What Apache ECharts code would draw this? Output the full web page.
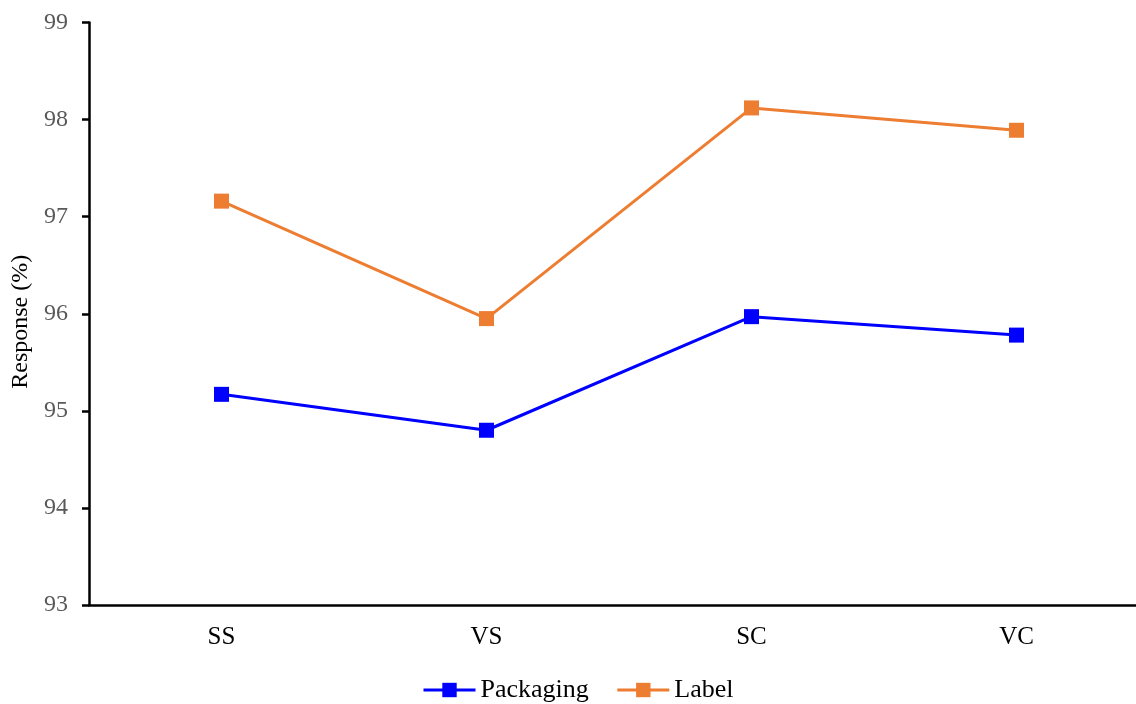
<!DOCTYPE html>
<html><head><meta charset="utf-8">
<script src="https://cdn.jsdelivr.net/npm/echarts@6/dist/echarts.min.js"></script>
<style>html,body{margin:0;padding:0;background:#fff}#c{width:1136px;height:704px}</style>
</head><body><div id="c"></div>
<script>
const categories = ['SS', 'VS', 'SC', 'VC'];
const packaging = [95.17, 94.80, 95.97, 95.78];
const label = [97.16, 95.95, 98.12, 97.89];
const yTicks = [93, 94, 95, 96, 97, 98, 99];

const font = '"Liberation Serif", "Times New Roman", serif';
const chart = echarts.init(document.getElementById('c'), null, {renderer: 'canvas'});
chart.setOption({
  animation: false,
  textStyle: {fontFamily: font},
  grid: {left: 89, width: 1060, top: 22.5, bottom: 99, containLabel: false, outerBoundsMode: 'none'},
  legend: {
    top: 672, left: 417,
    itemWidth: 52, itemHeight: 18, itemGap: 27,
    lineStyle: {width: 3},
    textStyle: {fontFamily: font, fontSize: 26, color: '#000'},
    data: ['Packaging', 'Label']
  },
  xAxis: {
    type: 'category', data: categories, boundaryGap: true,
    axisLine: {lineStyle: {color: '#000', width: 2.5}},
    axisTick: {show: false},
    axisLabel: {fontFamily: font, fontSize: 25, color: '#000', margin: 20}
  },
  yAxis: {
    type: 'value', min: yTicks[0], max: yTicks[yTicks.length - 1], interval: 1,
    name: 'Response (%)', nameLocation: 'middle', nameGap: 53, nameRotate: 90,
    nameTextStyle: {fontFamily: font, fontSize: 24, color: '#000', padding: [0, 16, 0, 0]},
    axisLine: {show: true, lineStyle: {color: '#000', width: 2.5}},
    axisTick: {show: true, length: 7, lineStyle: {color: '#000', width: 2.5}},
    splitLine: {show: false},
    axisLabel: {fontFamily: font, fontSize: 24, color: '#595959', margin: 21}
  },
  series: [
    {name: 'Packaging', type: 'line', data: packaging, symbol: 'rect', symbolSize: 15,
     itemStyle: {color: '#0000ff'}, lineStyle: {color: '#0000ff', width: 3}},
    {name: 'Label', type: 'line', data: label, symbol: 'rect', symbolSize: 15,
     itemStyle: {color: '#ed7d31'}, lineStyle: {color: '#ed7d31', width: 3}}
  ]
});
</script></body></html>
